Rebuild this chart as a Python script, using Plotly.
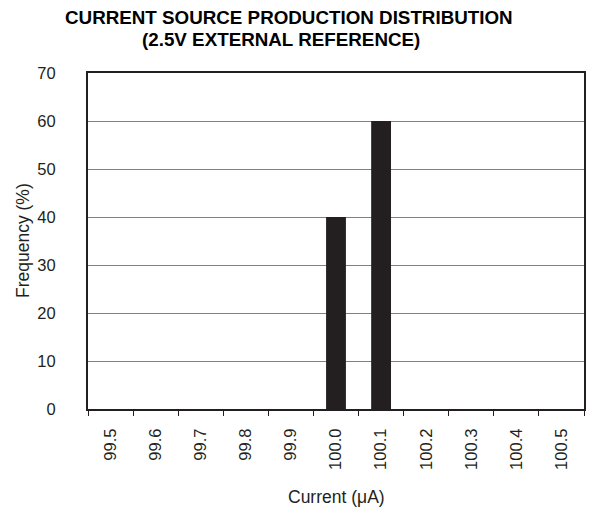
import plotly.graph_objects as go

# category labels and frequencies (%)
currents = ["99.5", "99.6", "99.7", "99.8", "99.9", "100.0", "100.1", "100.2", "100.3", "100.4", "100.5"]
freq = [0, 0, 0, 0, 0, 40, 60, 0, 0, 0, 0]

font_fam = "Liberation Sans, Arial, sans-serif"
ink = "#231f20"

fig = go.Figure()
fig.add_trace(go.Bar(x=currents, y=freq, marker_color=ink,
                     marker_line_width=0, width=0.44))

# page body adds 8px margin, so figure is sized 8px smaller
fig.update_layout(
    width=587, height=504,
    margin=dict(l=80, r=11, t=65, b=103),
    paper_bgcolor="white", plot_bgcolor="white",
    showlegend=False,
    font=dict(family=font_fam, size=16.5, color=ink),
)

# title lines and axis titles placed as annotations for exact positioning
fig.add_annotation(text="<b>CURRENT SOURCE PRODUCTION DISTRIBUTION</b>",
                   xref="paper", yref="paper", x=0.405, y=1.165, xanchor="center", yanchor="middle",
                   showarrow=False, font=dict(size=18.8, color="#000"))
fig.add_annotation(text="<b>(2.5V EXTERNAL REFERENCE)</b>",
                   xref="paper", yref="paper", x=0.389, y=1.1, xanchor="center", yanchor="middle",
                   showarrow=False, font=dict(size=18.8, color="#000"))
fig.add_annotation(text="Frequency (%)", textangle=-90,
                   xref="paper", yref="paper", x=-0.131, y=0.5, xanchor="center", yanchor="middle",
                   showarrow=False, font=dict(size=17.5))
fig.add_annotation(text="Current (μA)",
                   xref="paper", yref="paper", x=0.5, y=-0.262, xanchor="center", yanchor="middle",
                   showarrow=False, font=dict(size=17.5))

fig.update_xaxes(
    type="category", tickson="boundaries", ticks="outside", ticklen=5,
    tickcolor=ink, tickangle=-90, showgrid=False, automargin=False,
    showline=True, linecolor=ink, linewidth=2, mirror=True,
    ticklabelstandoff=11,
)
fig.update_yaxes(
    range=[0, 70], dtick=10, showgrid=True, gridcolor="#808080", gridwidth=1,
    showline=True, linecolor=ink, linewidth=2, mirror=True, automargin=False,
    zeroline=False, ticks="", ticklabelstandoff=27,
)

fig.write_html("out.html")
